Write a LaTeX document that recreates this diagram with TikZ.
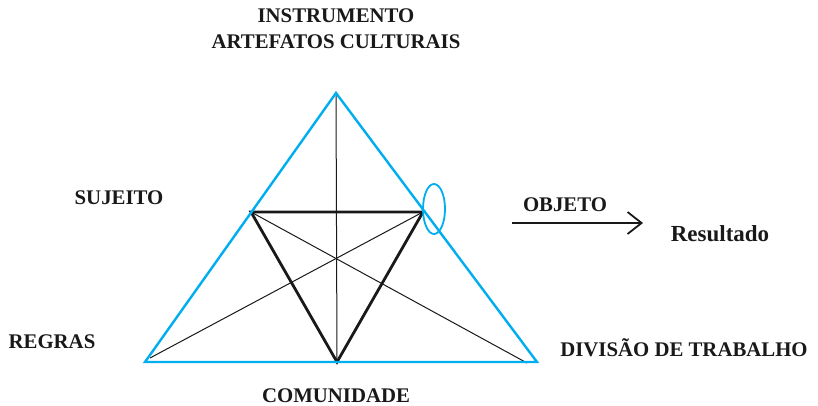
\documentclass[tikz,border=0pt]{standalone}
\usepackage{fontspec}
\setmainfont{Liberation Serif}
\usepackage{tikz}
\usetikzlibrary{arrows.meta,shapes.geometric}
\definecolor{ciano}{RGB}{0,174,239}

\begin{document}
\begin{tikzpicture}[x=1pt,y=-1pt,
      rotulo/.style={font=\fontsize{20.8}{24}\selectfont\bfseries,text=black!90,inner sep=0pt},
      externo/.style={draw=ciano,line width=2.4pt,line join=miter},
      interno/.style={draw=black!90,line width=2.8pt,line join=miter},
      fino/.style={draw=black!90,line width=1pt},
      seta/.style={-{Straight Barb[length=14pt,width=22pt,line width=1.8pt]},line width=1.8pt,draw=black!90}]
      \useasboundingbox (0,0) rectangle (818,406);
      % vertices
      \coordinate (topo) at (336,93);
      \coordinate (be) at (145,362);
      \coordinate (bd) at (537,362);
      \coordinate (se) at (251,212);
      \coordinate (sd) at (423,212);
      \coordinate (sb) at (337,362);
      \coordinate (fe) at (150,358);
      \coordinate (fd) at (527,363);
      % linhas
      \draw[fino] (topo) -- (sb);
      \draw[fino] (fe) -- (sd);
      \draw[fino] (fd) -- (se);
      \draw[interno] (se) -- (sd) -- (sb) -- cycle;
      \draw[externo] (topo) -- (be) -- (bd) -- cycle;
      \node[ellipse,draw=ciano,line width=1.8pt,minimum width=22pt,minimum height=50pt,inner sep=0pt] (marca) at (434,209) {};
      % rotulos
      \node[rotulo] (instr) at (336,16) {INSTRUMENTO};
      \node[rotulo] (artef) at (336,42) {ARTEFATOS CULTURAIS};
      \node[rotulo] (suj) at (119,198) {SUJEITO};
      \node[rotulo] (reg) at (52,342) {REGRAS};
      \node[rotulo] (com) at (336,396) {COMUNIDADE};
      \node[rotulo] (div) at (684,348) {DIVISÃO DE TRABALHO};
      \node[rotulo] (obj) at (565,205) {OBJETO};
      \node[rotulo,font=\fontsize{23}{26}\selectfont\bfseries] (res) at (720,234) {Resultado};
      \coordinate (sa) at (512,223);
      \coordinate (sc) at (643,223);
      \draw[seta] (sa) -- (sc);
\end{tikzpicture}
\end{document}
